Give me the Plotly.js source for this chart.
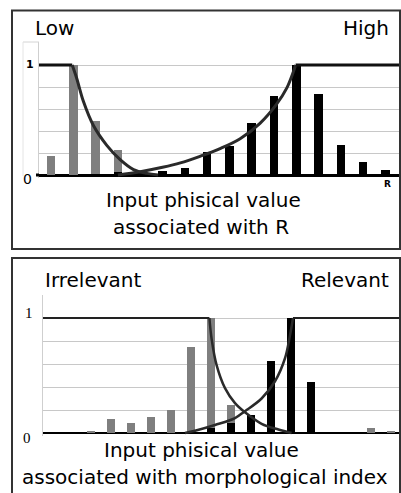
<!DOCTYPE html>
<html>
<head>
<meta charset="utf-8">
<script src="https://cdn.plot.ly/plotly-3.0.1.min.js"></script>
<style>html,body{margin:0;padding:0;background:#fff;}#chart{width:401px;height:493px;}</style>
</head>
<body>
<div id="chart"></div>
<script>
// ---------- Top panel (R) ----------
const topCats = [1,2,3,4,5,6,7,8,9,10,11,12,13,14,15,16];
const topLow  = [0.17,1.0,0.49,0.23,0.02,0,0,0,0,0,0,0,0,0,0,0];
const topHigh = [0,0,0.01,0.03,0.04,0.04,0.06,0.21,0.26,0.47,0.72,1.0,0.74,0.27,0.12,0.05];
// membership function "Low"
const topLowFlatX = [0.46,1.95];
const topLowFlatY = [1,1];
const topLowCurveX = [1.95,2.15,2.45,2.9,3.5,4.1,4.7,5.3,5.8];
const topLowCurveY = [1,0.88,0.67,0.45,0.27,0.14,0.05,0.015,0];
// membership function "High"
const topHighCurveX = [4.0,5.0,6.0,6.8,7.68,8.58,9.48,10.37,11.1,11.57,11.87,11.97];
const topHighCurveY = [0,0.03,0.07,0.11,0.17,0.24,0.33,0.47,0.64,0.79,0.94,1.0];
const topHighFlatX = [11.97,16.65];
const topHighFlatY = [1,1];

// ---------- Bottom panel (morphological index) ----------
const botCats = [1,2,3,4,5,6,7,8,9,10,11,12,13,14,15,16,17,18];
const botIrr  = [0,0,0.02,0.12,0.09,0.14,0.2,0.75,1.0,0.24,0,0,0,0,0,0,0.04,0.02];
const botRel  = [0,0,0,0,0,0,0,0.005,0.04,0.09,0.16,0.63,1.0,0.44,0.005,0,0,0];
const botIrrFlatX = [0.6,8.92];
const botIrrFlatY = [1,1];
const botIrrCurveX = [8.92,9.03,9.28,9.7,10.2,10.7,11.53,12.37,13.03];
const botIrrCurveY = [1,0.82,0.59,0.39,0.26,0.18,0.08,0.03,0];
const botRelCurveX = [7.7,8.2,9.2,10.2,10.7,11.53,12.2,12.7,12.95,13.1];
const botRelCurveY = [0,0.02,0.07,0.13,0.19,0.30,0.45,0.65,0.85,1.0];
const botRelFlatX = [13.1,18.45];
const botRelFlatY = [1,1];

const W = 401, H = 493;
const px = v => v / W;
const py = v => 1 - v / H;

const GRAY = '#7f7f7f', CURVE = '#2a2a2a';
function bar(x, y, color, xa, ya) {
  return {type:'bar', x:x, y:y, xaxis:xa, yaxis:ya, width:0.38,
          marker:{color:color, line:{width:0}}, hoverinfo:'skip'};
}
function line(x, y, xa, ya, shape, color, w) {
  return {type:'scatter', mode:'lines', x:x, y:y, xaxis:xa, yaxis:ya,
          line:{color:color, width:w, shape:shape, smoothing:1}, hoverinfo:'skip'};
}

const data = [
  bar(topCats, topLow, GRAY, 'x', 'y'),
  bar(topCats, topHigh, '#000', 'x', 'y'),
  line(topLowFlatX, topLowFlatY, 'x', 'y', 'linear', '#111', 2.8),
  line(topLowCurveX, topLowCurveY, 'x', 'y', 'spline', CURVE, 3),
  line(topHighCurveX, topHighCurveY, 'x', 'y', 'spline', CURVE, 3),
  line(topHighFlatX, topHighFlatY, 'x', 'y', 'linear', '#111', 2.8),
  bar(botCats, botIrr, GRAY, 'x2', 'y2'),
  bar(botCats, botRel, '#000', 'x2', 'y2'),
  line(botIrrFlatX, botIrrFlatY, 'x2', 'y2', 'linear', '#222', 2),
  line(botIrrCurveX, botIrrCurveY, 'x2', 'y2', 'spline', CURVE, 2.5),
  line(botRelCurveX, botRelCurveY, 'x2', 'y2', 'spline', CURVE, 2.5),
  line(botRelFlatX, botRelFlatY, 'x2', 'y2', 'linear', '#222', 2)
];

const gridVals = [0,0.2,0.4,0.6,0.8,1.0,1.2];
const yCommon = {tickvals:gridVals, showticklabels:false, ticks:'', showgrid:true,
  gridcolor:'#c8c8c8', gridwidth:1, zeroline:true, zerolinecolor:'#000',
  showline:true, linecolor:'#cfcfcf', linewidth:1, fixedrange:true};
const xCommon = {showgrid:false, zeroline:false, showticklabels:false, ticks:'', showline:false, fixedrange:true};

const SANS = 'DejaVu Sans, sans-serif';
const SERIF = 'Liberation Serif, serif';
function txt(text, x, y, xanchor, size, family, extra) {
  return Object.assign({text:text, xref:'paper', yref:'paper', x:px(x), y:py(y),
    xanchor:xanchor, yanchor:'middle', showarrow:false,
    font:{family:family, size:size, color:'#000'}}, extra || {});
}

const layout = {
  width:W, height:H, margin:{l:0,r:0,t:0,b:0},
  paper_bgcolor:'#fff', plot_bgcolor:'#fff', showlegend:false,
  barmode:'overlay', bargap:0,
  xaxis:Object.assign({}, xCommon, {domain:[px(39), px(400)], range:[0.46,16.65], anchor:'y'}),
  yaxis:Object.assign({}, yCommon, {domain:[py(178), py(42)], range:[-0.027,1.209], anchor:'x', zerolinewidth:3}),
  xaxis2:Object.assign({}, xCommon, {domain:[px(43), px(400)], range:[0.6,18.45], anchor:'y2'}),
  yaxis2:Object.assign({}, yCommon, {domain:[py(436), py(295)], range:[-0.026,1.2], anchor:'x2', zerolinewidth:2.5}),
  shapes:[
    {type:'rect', xref:'paper', yref:'paper', x0:px(12), x1:px(400), y0:py(249), y1:py(10.5),
     line:{color:'#333', width:2}, fillcolor:'rgba(0,0,0,0)'},
    {type:'rect', xref:'paper', yref:'paper', x0:px(12), x1:px(400), y0:py(500), y1:py(258),
     line:{color:'#333', width:2}, fillcolor:'rgba(0,0,0,0)'},
    {type:'line', xref:'paper', yref:'paper', x0:px(23), x1:px(39), y0:py(42), y1:py(42),
     line:{color:'#d4d4d4', width:1}},
    {type:'line', xref:'paper', yref:'paper', x0:px(23), x1:px(23), y0:py(42), y1:py(176),
     line:{color:'#e4e4e4', width:1}},
    {type:'line', xref:'paper', yref:'paper', x0:px(36), x1:px(39), y0:py(175), y1:py(175),
     line:{color:'#000', width:3}}
  ],
  annotations:[
    txt('Low', 33, 28, 'left', 20, SANS),
    txt('High', 391, 28, 'right', 20, SANS),
    txt('1', 30, 64, 'center', 11, SANS, {font:{family:SANS, size:11, color:'#000', weight:'bold'}}),
    txt('0', 27, 179, 'center', 14, SANS),
    txt('R', 387, 184, 'center', 9, SANS, {font:{family:SANS, size:9, color:'#000', weight:'bold'}}),
    txt('Input phisical value', 204, 200, 'center', 20, SANS),
    txt('associated with R', 201, 227, 'center', 20, SANS),
    txt('Irrelevant', 43, 280, 'left', 20, SANS),
    txt('Relevant', 391, 280, 'right', 20, SANS),
    txt('1', 29, 313, 'center', 15, SERIF),
    txt('0', 27, 438, 'center', 15, SERIF),
    txt('Input phisical value', 201, 450, 'center', 20, SANS),
    txt('associated with morphological index', 205, 477, 'center', 20, SANS)
  ]
};

Plotly.newPlot('chart', data, layout, {staticPlot:true, displayModeBar:false});
</script>
</body>
</html>
